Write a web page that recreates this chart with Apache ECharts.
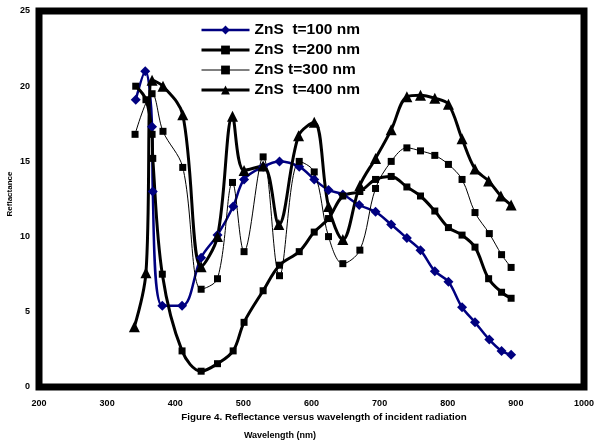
<!DOCTYPE html>
<html>
<head>
<meta charset="utf-8">
<script src="https://cdn.jsdelivr.net/npm/echarts@6/dist/echarts.min.js"></script>
<style>
  html, body { margin: 0; padding: 0; background: #fff; }
  #chart { width: 594px; height: 443px; }
</style>
</head>
<body>
<div id="chart"></div>
<script>
// wavelength (nm) and reflectance, one pair of arrays per film
const seriesNames = ['ZnS  t=100 nm', 'ZnS  t=200 nm', 'ZnS t=300 nm', 'ZnS  t=400 nm'];

const wl100 = [342, 356, 366, 367, 381, 410, 438, 462, 485, 501, 529, 553, 582, 604, 625, 646, 670, 694, 717, 740, 760, 781, 801, 821, 840, 861, 879, 893];
const r100 = [19.1, 21.0, 17.3, 13.0, 5.4, 5.4, 8.6, 10.1, 12.0, 13.8, 14.65, 15.0, 14.65, 13.8, 13.1, 12.8, 12.1, 11.65, 10.8, 9.9, 9.1, 7.7, 7.0, 5.3, 4.3, 3.15, 2.4, 2.15];

const wl200 = [342, 357, 366, 367, 381, 410, 438, 462, 485, 501, 529, 553, 582, 604, 625, 646, 671, 694, 717, 740, 760, 781, 801, 821, 840, 860, 879, 893];
const r200 = [20.0, 19.1, 16.8, 15.2, 7.5, 2.4, 1.05, 1.55, 2.4, 4.3, 6.4, 8.1, 9.0, 10.3, 11.2, 12.7, 13.0, 13.8, 14.0, 13.3, 12.7, 11.7, 10.6, 10.1, 9.3, 7.2, 6.3, 5.9];

const wl300 = [341, 366, 382, 411, 438, 462, 484, 501, 529, 553, 582, 604, 625, 646, 671, 694, 717, 740, 760, 781, 801, 821, 840, 861, 879, 893];
const r300 = [16.8, 19.5, 17.0, 14.6, 6.5, 7.2, 13.6, 9.0, 15.3, 7.4, 15.0, 14.3, 10.0, 8.2, 9.1, 13.2, 15.0, 15.9, 15.7, 15.4, 14.8, 13.8, 11.6, 10.2, 8.8, 7.95];

const wl400 = [340, 357, 366, 382, 411, 438, 462, 484, 501, 529, 552, 581, 604, 625, 646, 671, 694, 717, 740, 760, 781, 801, 821, 840, 860, 878, 893];
const r400 = [4.0, 7.6, 20.4, 20.0, 18.1, 8.0, 10.0, 18.0, 14.4, 14.7, 10.8, 16.7, 17.6, 12.0, 9.8, 13.4, 15.2, 17.1, 19.3, 19.4, 19.2, 18.8, 16.5, 14.5, 13.7, 12.7, 12.1];

const pairs = (xs, ys) => xs.map((x, i) => [x, ys[i]]);

const font = 'Liberation Sans, Arial, sans-serif';
const chart = echarts.init(document.getElementById('chart'));

const option = {
  backgroundColor: '#fff',
  animation: false,
  title: [
    {
      text: 'Figure 4. Reflectance versus wavelength of incident radiation',
      left: 319,
      top: 407,
      textAlign: 'center',
      textStyle: { fontFamily: font, fontSize: 9.8, fontWeight: 'bold', color: '#000' },
    },
    {
      text: 'Wavelength (nm)',
      left: 275,
      top: 426,
      textAlign: 'center',
      textStyle: { fontFamily: font, fontSize: 9, fontWeight: 'bold', color: '#000' },
    },
  ],
  // y axis title, placed by hand like the original
  graphic: [
    {
      type: 'text',
      x: 10,
      y: 194,
      rotation: Math.PI / 2,
      style: {
        text: 'Reflactance',
        fill: '#000',
        font: 'bold 8px Liberation Sans, Arial, sans-serif',
        align: 'center',
        verticalAlign: 'middle',
      },
    },
  ],
  legend: {
    orient: 'vertical',
    left: 200,
    top: 22,
    padding: 0,
    itemWidth: 48,
    itemHeight: 11,
    itemGap: 4,
    textStyle: { fontFamily: font, fontSize: 15.5, fontWeight: 'bold', color: '#000' },
    data: [
      { name: seriesNames[0], lineStyle: { width: 2.5 } },
      { name: seriesNames[1], lineStyle: { width: 3 } },
      { name: seriesNames[2], lineStyle: { width: 1 } },
      { name: seriesNames[3], lineStyle: { width: 3 } },
    ],
  },
  grid: {
    left: 39,
    right: 10,
    top: 11,
    bottom: 56,
    outerBoundsMode: 'none',
    show: true,
    borderColor: '#000',
    borderWidth: 7,
    backgroundColor: '#fff',
  },
  xAxis: {
    type: 'value',
    min: 200,
    max: 1000,
    interval: 100,
    axisLine: { show: false },
    axisTick: { show: false },
    splitLine: { show: false },
    axisLabel: {
      margin: 12,
      fontFamily: font,
      fontSize: 9,
      fontWeight: 'bold',
      color: '#000',
      formatter: (v) => String(v),
    },
  },
  yAxis: {
    type: 'value',
    min: 0,
    max: 25,
    interval: 5,
    axisLine: { show: false },
    axisTick: { show: false },
    splitLine: { show: false },
    axisLabel: { margin: 9, fontFamily: font, fontSize: 9, fontWeight: 'bold', color: '#000' },
  },
  series: [
    {
      name: seriesNames[0],
      type: 'line',
      smooth: 0.35,
      symbol: 'diamond',
      symbolSize: 10,
      color: '#000080',
      lineStyle: { width: 2.5, color: '#000080' },
      itemStyle: { color: '#000080' },
      data: pairs(wl100, r100),
    },
    {
      name: seriesNames[1],
      type: 'line',
      smooth: 0.35,
      symbol: 'rect',
      symbolSize: 7,
      color: '#000',
      lineStyle: { width: 3, color: '#000' },
      itemStyle: { color: '#000' },
      data: pairs(wl200, r200),
    },
    {
      name: seriesNames[2],
      type: 'line',
      smooth: 0.35,
      symbol: 'rect',
      symbolSize: 7,
      color: '#000',
      lineStyle: { width: 1, color: '#000' },
      itemStyle: { color: '#000' },
      data: pairs(wl300, r300),
    },
    {
      name: seriesNames[3],
      type: 'line',
      smooth: 0.35,
      symbol: 'triangle',
      symbolSize: 11,
      color: '#000',
      lineStyle: { width: 3, color: '#000' },
      itemStyle: { color: '#000' },
      data: pairs(wl400, r400),
    },
  ],
};

chart.setOption(option);
</script>
</body>
</html>
